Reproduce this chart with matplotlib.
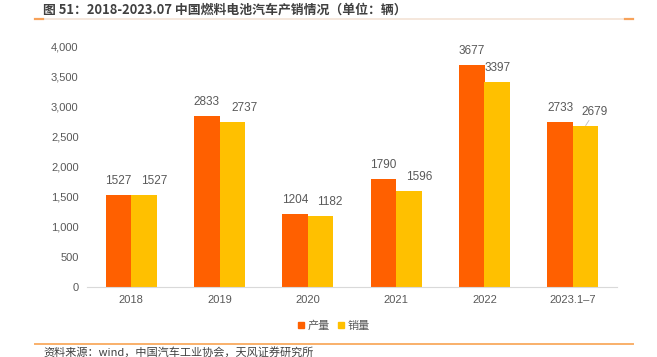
import numpy as np
import matplotlib.pyplot as plt
from matplotlib.lines import Line2D
from matplotlib.ticker import FuncFormatter

# Data
years = ["2018", "2019", "2020", "2021", "2022", "2023.1\u20137"]
production = [1527, 2833, 1204, 1790, 3677, 2733]
sales = [1527, 2737, 1182, 1596, 3397, 2679]
# horizontal nudge of sales labels (pixels)
sales_label_dx = [10, 12, 9, 10, 0, 9]

ORANGE = "#FF6000"
YELLOW = "#FFC000"
TEXT = "#595959"
CJK = ["Noto Sans CJK SC", "DejaVu Sans"]
NUM = ["Liberation Sans", "Noto Sans CJK SC"]

plt.rcParams["font.family"] = NUM

fig = plt.figure(figsize=(6.57, 3.57), dpi=100)
ax = fig.add_axes([87 / 657, 70 / 357, 530 / 657, 241 / 357])

x = np.arange(len(years))
w = 0.29
b1 = ax.bar(x - w / 2, production, w, color=ORANGE, label="产量")
b2 = ax.bar(x + w / 2, sales, w, color=YELLOW, label="销量")

for xi, v in zip(x, production):
    ax.annotate(str(v), xy=(xi - w / 2, v), xytext=(0, 8), textcoords="offset pixels",
                ha="center", va="bottom", fontsize=8.5, color=TEXT)
for i, (xi, v) in enumerate(zip(x, sales)):
    arrow = None
    if i == len(sales) - 1:
        arrow = dict(arrowstyle="-", color="#BFBFBF", lw=0.6, shrinkA=0, shrinkB=0)
    ax.annotate(str(v), xy=(xi + w / 2, v), xytext=(sales_label_dx[i], 8),
                textcoords="offset pixels", ha="center", va="bottom",
                fontsize=8.5, color=TEXT, arrowprops=arrow)

ax.set_xlim(-0.5, len(years) - 0.5)
ax.set_ylim(0, 4000)
ax.set_yticks(np.arange(0, 4001, 500))
ax.yaxis.set_major_formatter(FuncFormatter(lambda v, p: f"{int(v):,}"))
ax.set_xticks(x)
ax.set_xticklabels(years)
ax.tick_params(axis="both", length=0, labelsize=8, colors=TEXT)
ax.tick_params(axis="y", pad=6)
ax.tick_params(axis="x", pad=6)
for s in ["top", "right", "left"]:
    ax.spines[s].set_visible(False)
ax.spines["bottom"].set_color("#D9D9D9")
ax.spines["bottom"].set_linewidth(0.8)

# Legend
handles = [Line2D([], [], marker="s", linestyle="", color=ORANGE, markersize=5),
           Line2D([], [], marker="s", linestyle="", color=YELLOW, markersize=5)]
fig.legend(handles, ["产量", "销量"], loc="center", bbox_to_anchor=(333 / 657, 1 - 326 / 357),
           ncol=2, frameon=False, handlelength=0.8, handletextpad=0.2, columnspacing=0.6,
           prop={"family": CJK, "size": 8}, labelcolor=TEXT)

# Title and decorative lines
fig.text(43 / 657, 1 - 10 / 357, "图 51：2018-2023.07 中国燃料电池汽车产销情况（单位：辆）",
         family=CJK, fontsize=9.3, fontweight="bold", color="#404040", ha="left", va="center")
fig.add_artist(Line2D([35 / 657, 633 / 657], [1 - 18.5 / 357] * 2, color="#F3E3D6", lw=1.2))
fig.add_artist(Line2D([35 / 657, 43 / 657], [1 - 19 / 357] * 2, color="#F7A25A", lw=1.6))
fig.add_artist(Line2D([625 / 657, 633 / 657], [1 - 19 / 357] * 2, color="#F7A25A", lw=1.6))
fig.add_artist(Line2D([35 / 657, 633 / 657], [1 - 344 / 357] * 2, color="#F9B06A", lw=1.4))

fig.text(43 / 657, 1 - 352 / 357, "资料来源：wind，中国汽车工业协会，天风证券研究所",
         family=CJK, fontsize=8, color="#404040", ha="left", va="center")

fig.savefig("out.png", dpi=100)
